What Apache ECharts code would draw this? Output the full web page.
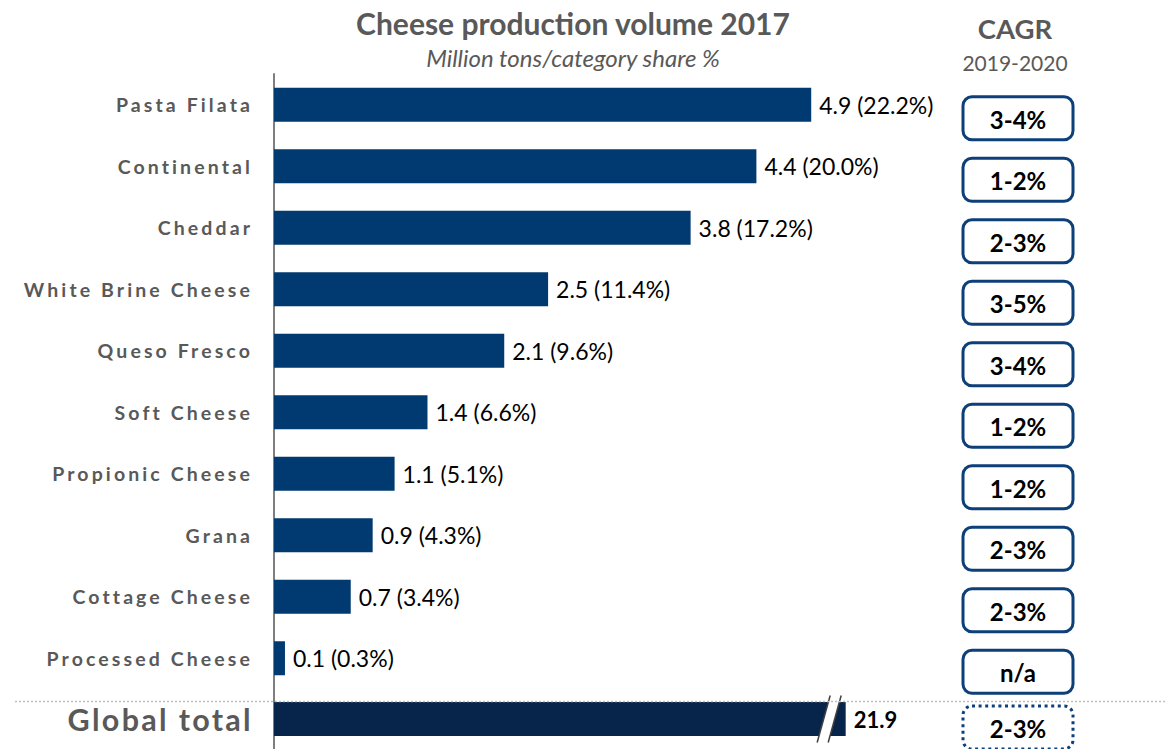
<!DOCTYPE html>
<html>
<head>
<meta charset="utf-8">
<script src="https://cdn.jsdelivr.net/npm/echarts@6/dist/echarts.min.js"></script>
<style>
  html, body { margin: 0; padding: 0; background: #fff; }
  #chart { width: 1167px; height: 749px; }
  /* tracked-out row labels (19.5px rows, 30.5px total row) */
  #chart text[style*="19.5px"] { letter-spacing: 3.1px; }
  #chart text[style*="30.5px"] { letter-spacing: 2.3px; }
</style>
</head>
<body>
<div id="chart"></div>
<script>
// Cheese production volume 2017, million tons, with category share and CAGR range
const categories = ['Pasta Filata', 'Continental', 'Cheddar', 'White Brine Cheese', 'Queso Fresco',
                    'Soft Cheese', 'Propionic Cheese', 'Grana', 'Cottage Cheese', 'Processed Cheese'];
const volumes = [4.9, 4.4, 3.8, 2.5, 2.1, 1.4, 1.1, 0.9, 0.7, 0.1];
const shares = [22.2, 20.0, 17.2, 11.4, 9.6, 6.6, 5.1, 4.3, 3.4, 0.3];
const cagrRanges = ['3-4%', '1-2%', '2-3%', '3-5%', '3-4%', '1-2%', '1-2%', '2-3%', '2-3%', 'n/a'];
const totalCategory = ['Global total'];
const totalVolume = [21.9];
const totalCagr = ['2-3%'];

const FONT = 'Lato';
const GRAY = '#595959';
const NAVY = '#003A70';
const DARK_NAVY = '#07244A';
const BOX_BLUE = '#0D3F78';

const chart = echarts.init(document.getElementById('chart'), null, { renderer: 'svg' });

// rounded CAGR box drawn across a 0..1 helper axis
function cagrBox(texts, offset, dashed) {
  return function (params, api) {
    const row = api.value(1);
    const a = api.coord([0, row]);
    const b = api.coord([1, row]);
    const h = 43;
    const cy = a[1] + offset;
    return {
      type: 'group',
      children: [
        {
          type: 'rect',
          shape: { x: a[0], y: cy - h / 2, width: b[0] - a[0], height: h, r: 9 },
          style: dashed
            ? { fill: '#fff', stroke: BOX_BLUE, lineWidth: 3, lineDash: [3, 3.6] }
            : { fill: '#fff', stroke: BOX_BLUE, lineWidth: 3 }
        },
        {
          type: 'text',
          style: {
            text: texts[params.dataIndex],
            x: (a[0] + b[0]) / 2, y: cy + 1,
            textAlign: 'center', textVerticalAlign: 'middle',
            font: 'bold 24px ' + FONT, fill: '#000'
          }
        }
      ]
    };
  };
}

const rowTop = 74, rowH = 61.5;
const plotLeft = 274, plotWidth = 603;

const option = {
  animation: false,
  backgroundColor: '#fff',
  grid: [
    { left: plotLeft, top: rowTop, width: plotWidth, height: rowH * categories.length },
    { left: plotLeft, top: rowTop + rowH * categories.length, width: plotWidth, height: rowH },
    { left: 963, top: rowTop, width: 110, height: rowH * categories.length },
    { left: 963, top: rowTop + rowH * categories.length, width: 110, height: rowH }
  ],
  xAxis: [
    { gridIndex: 0, type: 'value', min: 0, max: 5.5, show: false },
    { gridIndex: 1, type: 'value', min: 0, max: 23.1, show: false },
    { gridIndex: 2, type: 'value', min: 0, max: 1, show: false },
    { gridIndex: 3, type: 'value', min: 0, max: 1, show: false }
  ],
  yAxis: [
    {
      gridIndex: 0, type: 'category', data: categories, inverse: true,
      axisLine: { show: true, lineStyle: { color: '#7F7F7F', width: 2 } },
      axisTick: { show: false },
      axisLabel: { interval: 0, margin: 21, fontFamily: FONT, fontWeight: 'bold', fontSize: 19.5, color: GRAY }
    },
    {
      gridIndex: 1, type: 'category', data: totalCategory,
      axisLine: { show: true, lineStyle: { color: '#7F7F7F', width: 2 } },
      axisTick: { show: false },
      axisLabel: { interval: 0, margin: 21, fontFamily: FONT, fontWeight: 'bold', fontSize: 30.5, color: GRAY }
    },
    { gridIndex: 2, type: 'category', data: categories, inverse: true, show: false },
    { gridIndex: 3, type: 'category', data: totalCategory, show: false }
  ],
  series: [
    {
      type: 'bar', xAxisIndex: 0, yAxisIndex: 0,
      data: volumes, barWidth: 34,
      itemStyle: { color: NAVY },
      label: {
        show: true, position: 'right', distance: 8,
        fontFamily: FONT, fontSize: 23, color: '#000',
        formatter: p => volumes[p.dataIndex].toFixed(1) + ' (' + shares[p.dataIndex].toFixed(1) + '%)'
      }
    },
    {
      type: 'bar', xAxisIndex: 1, yAxisIndex: 1,
      data: totalVolume, barWidth: 34,
      itemStyle: { color: DARK_NAVY },
      label: {
        show: true, position: 'right', distance: 8,
        fontFamily: FONT, fontSize: 22, fontWeight: 'bold', color: '#000',
        formatter: p => totalVolume[p.dataIndex].toFixed(1)
      }
    },
    {
      // axis-break mark across the total bar
      type: 'custom', xAxisIndex: 1, yAxisIndex: 1, silent: true, clip: false, z: 5,
      data: totalVolume.map((v, i) => [v, i]),
      renderItem: (params, api) => {
        const end = api.coord([api.value(0), api.value(1)]);
        const cx = end[0] - 16.5, cy = end[1];
        const half = 23.5, slant = 6.5, gap = 5.5;
        const l1 = [[cx - gap - slant, cy + half], [cx - gap + slant, cy - half]];
        const l2 = [[cx + gap - slant, cy + half], [cx + gap + slant, cy - half]];
        return {
          type: 'group',
          children: [
            { type: 'polygon', shape: { points: [l1[0], l1[1], l2[1], l2[0]] }, style: { fill: '#fff' } },
            { type: 'line', shape: { x1: l1[0][0], y1: l1[0][1], x2: l1[1][0], y2: l1[1][1] }, style: { stroke: '#404040', lineWidth: 1.5 } },
            { type: 'line', shape: { x1: l2[0][0], y1: l2[0][1], x2: l2[1][0], y2: l2[1][1] }, style: { stroke: '#404040', lineWidth: 1.5 } }
          ]
        };
      }
    },
    {
      type: 'custom', xAxisIndex: 2, yAxisIndex: 2, silent: true, clip: false,
      data: cagrRanges.map((t, i) => [0, i]),
      renderItem: cagrBox(cagrRanges, 13.5, false)
    },
    {
      type: 'custom', xAxisIndex: 3, yAxisIndex: 3, silent: true, clip: false,
      data: totalCagr.map((t, i) => [0, i]),
      renderItem: cagrBox(totalCagr, 8.5, true)
    }
  ],
  graphic: [
    {
      type: 'text', x: 573, y: 23,
      style: { text: 'Cheese production volume 2017', textAlign: 'center', textVerticalAlign: 'middle', font: 'bold 30px ' + FONT, fill: GRAY }
    },
    {
      type: 'text', x: 573, y: 57,
      style: { text: 'Million tons/category share %', textAlign: 'center', textVerticalAlign: 'middle', font: 'italic 24px ' + FONT, fill: GRAY }
    },
    {
      type: 'text', x: 1015, y: 28,
      style: { text: 'CAGR', textAlign: 'center', textVerticalAlign: 'middle', font: 'bold 27.5px ' + FONT, fill: GRAY }
    },
    {
      type: 'text', x: 1015, y: 62,
      style: { text: '2019-2020', textAlign: 'center', textVerticalAlign: 'middle', font: '21px ' + FONT, fill: GRAY }
    },
    {
      type: 'line', z: 10,
      shape: { x1: 15, y1: 701.5, x2: 1167, y2: 701.5 },
      style: { stroke: '#BFBFBF', lineWidth: 1.5, lineDash: [2, 2] }
    }
  ]
};

chart.setOption(option);
</script>
</body>
</html>
